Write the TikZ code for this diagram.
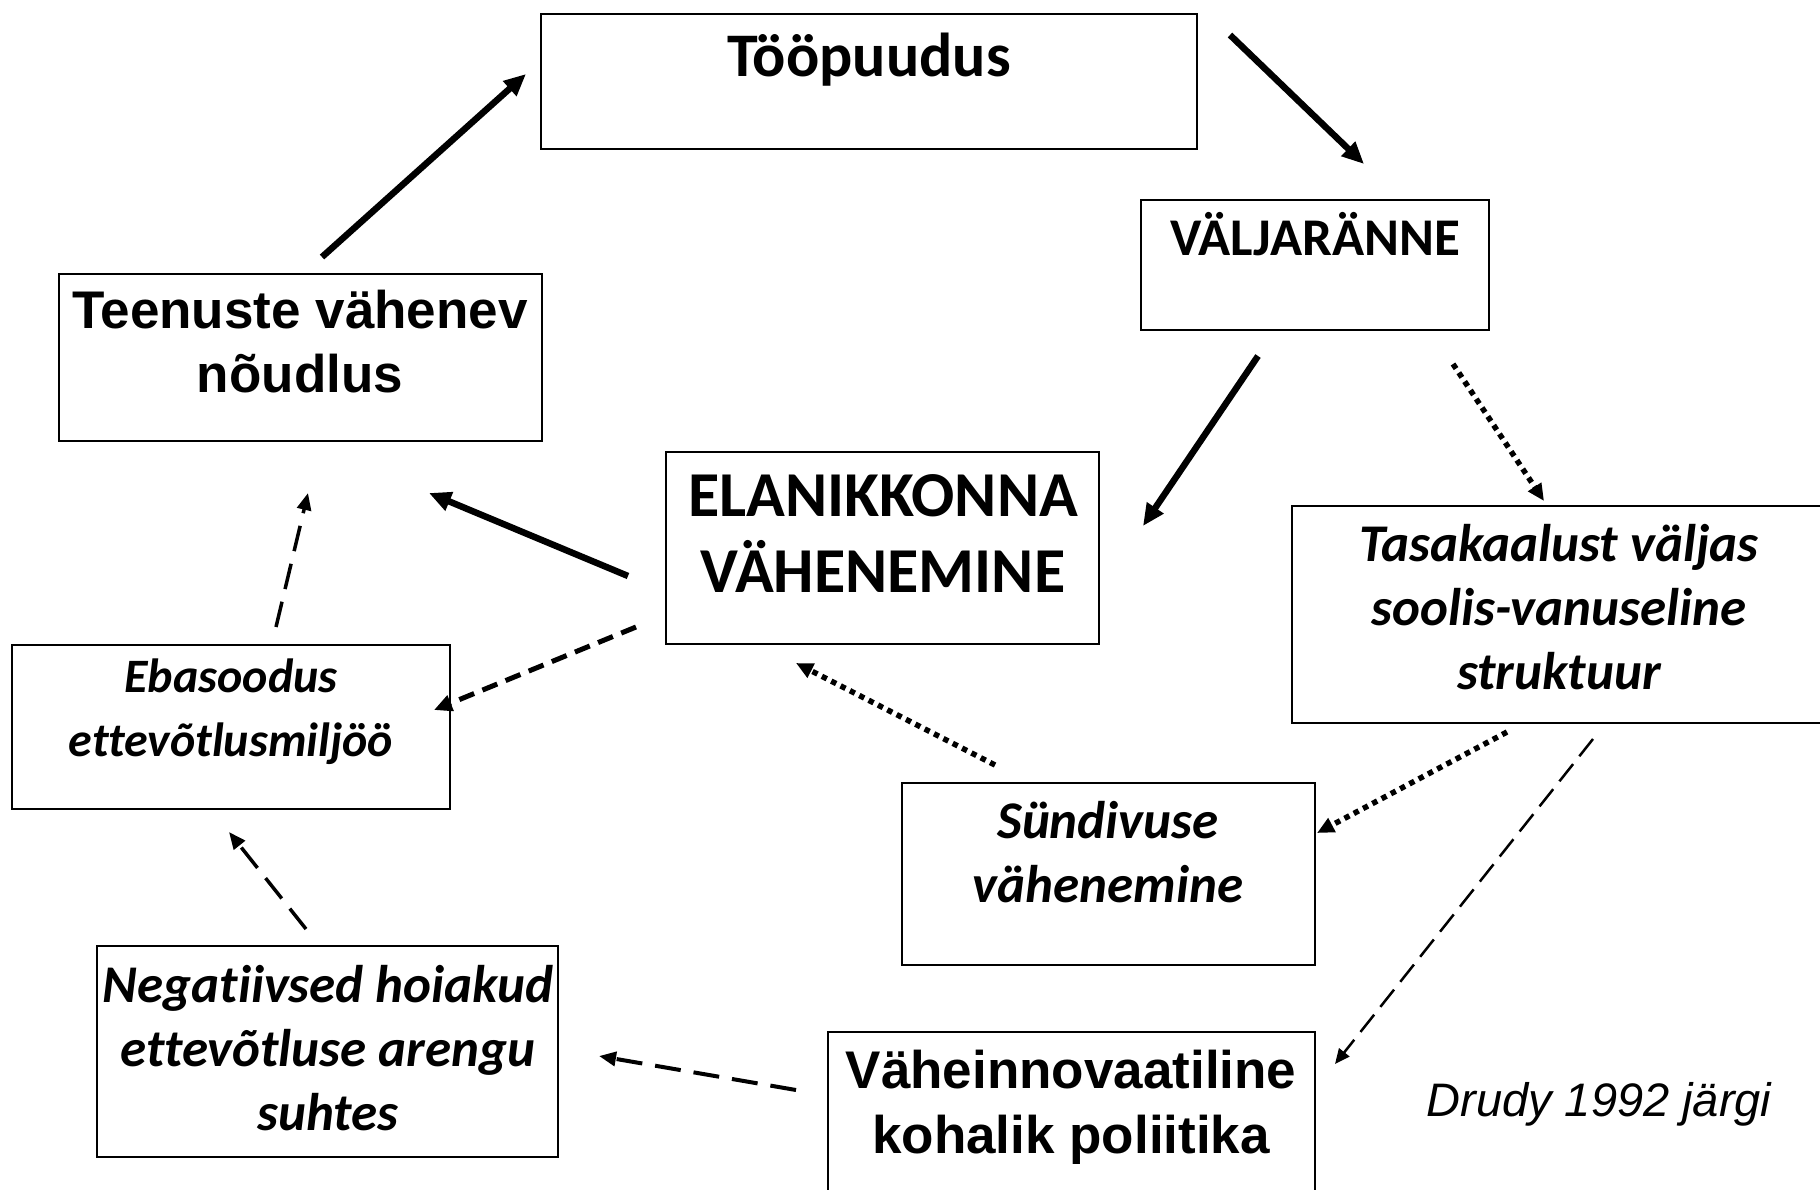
\documentclass[tikz,border=0pt]{standalone}
\usepackage{fontspec}
\setmainfont{Carlito}[Ligatures=NoCommon]
\newfontfamily\arialf{Liberation Sans}
\usetikzlibrary{arrows.meta}
\begin{document}
\begin{tikzpicture}[x=1pt,y=-1pt,
  box/.style={draw=black,line width=2pt,inner sep=0pt,outer sep=0pt,anchor=north west},
  cal/.style={font=\fontsize{62}{75}\selectfont\bfseries,align=center,inner sep=0pt},
  ari/.style={font=\arialf\fontsize{53}{64}\selectfont\bfseries,align=center,inner sep=0pt},
  ita/.style={font=\fontsize{53}{64}\selectfont\bfseries\itshape,align=center,inner sep=0pt},
  thickarr/.style={line width=6.5pt,-{Triangle[length=22pt,width=19pt]}},
  dotarr/.style={line width=5.5pt,dash pattern=on 5.5pt off 5pt,-{Triangle[length=17pt,width=15pt]}},
  thickdash/.style={line width=5pt,dash pattern=on 16pt off 9pt,-{Triangle[length=18pt,width=16pt]}},
  longdash/.style={line width=3.5pt,dash pattern=on 26pt off 13pt,-{Triangle[length=17pt,width=14pt]}},
  thindash/.style={line width=2.5pt,dash pattern=on 22pt off 10pt,-{Triangle[length=15pt,width=13pt]}}]
\useasboundingbox (0,0) rectangle (1820,1189);
\clip (0,0) rectangle (1820,1189);
% boxes
\node[box,minimum width=656pt,minimum height=135pt] (b1) at (541,14) {};
\node[box,minimum width=348pt,minimum height=130pt] (b2) at (1141,200) {};
\node[box,minimum width=483pt,minimum height=167pt] (b3) at (59,274) {};
\node[box,minimum width=433pt,minimum height=192pt] (b4) at (666,452) {};
\node[box,minimum width=540pt,minimum height=217pt] (b5) at (1292,506) {};
\node[box,minimum width=438pt,minimum height=164pt] (b6) at (12,645) {};
\node[box,minimum width=413pt,minimum height=182pt] (b7) at (902,783) {};
\node[box,minimum width=461pt,minimum height=211pt] (b8) at (97,946) {};
\node[box,minimum width=487pt,minimum height=170pt] (b9) at (828,1032) {};
% texts
\node[cal] (t1) at (869,60) {Tööpuudus};
\node[cal,font=\fontsize{53}{64}\selectfont\bfseries] (t2) at (1315,234) {VÄLJARÄNNE};
\node[ari] (t3) at (300,342) {Teenuste vähenev\\nõudlus};
\node[cal,font=\fontsize{64}{76}\selectfont\bfseries] (t4) at (883,534) {ELANIKKONNA\\VÄHENEMINE};
\node[ita] (t5) at (1559,607) {Tasakaalust väljas\\soolis-vanuseline\\struktuur};
\node[ita,font=\fontsize{48}{64}\selectfont\bfseries\itshape] (t6) at (231,712) {Ebasoodus\\ettevõtlusmiljöö};
\node[ita] (t7) at (1108,852) {Sündivuse\\vähenemine};
\node[ita] (t8) at (328,1048) {Negatiivsed hoiakud\\ettevõtluse arengu\\suhtes};
\node[ari,font=\arialf\fontsize{53}{65}\selectfont\bfseries] (t9) at (1071,1107) {Väheinnovaatiline\\kohalik poliitika};
\node[font=\arialf\itshape\fontsize{47}{56}\selectfont,inner sep=0pt] (src) at (1599,1104) {Drudy 1992 järgi};
% connector ends
\coordinate (a1s) at (322,257); \coordinate (a1e) at (526,74);
\coordinate (a2s) at (1230,35); \coordinate (a2e) at (1364,164);
\coordinate (a3s) at (1258,356); \coordinate (a3e) at (1143,526);
\coordinate (a4s) at (1453,364); \coordinate (a4e) at (1544,501);
\coordinate (a5s) at (628,576); \coordinate (a5e) at (429,493);
\coordinate (a6s) at (636,627); \coordinate (a6e) at (434,710);
\coordinate (a7s) at (276,627); \coordinate (a7e) at (308,493);
\coordinate (a8s) at (995,765); \coordinate (a8e) at (796,663);
\coordinate (a9s) at (1507,732); \coordinate (a9e) at (1317,833);
\coordinate (a10s) at (1593,739); \coordinate (a10e) at (1335,1064);
\coordinate (a11s) at (796,1090); \coordinate (a11e) at (599,1056);
\coordinate (a12s) at (306,929); \coordinate (a12e) at (229,832);
% connectors
\draw[thickarr] (a1s) -- (a1e);
\draw[thickarr] (a2s) -- (a2e);
\draw[thickarr] (a3s) -- (a3e);
\draw[dotarr] (a4s) -- (a4e);
\draw[thickarr] (a5s) -- (a5e);
\draw[thickdash] (a6s) -- (a6e);
\draw[longdash] (a7s) -- (a7e);
\draw[dotarr] (a8s) -- (a8e);
\draw[dotarr] (a9s) -- (a9e);
\draw[thindash] (a10s) -- (a10e);
\draw[longdash,line width=4pt] (a11s) -- (a11e);
\draw[longdash] (a12s) -- (a12e);
\end{tikzpicture}
\end{document}
